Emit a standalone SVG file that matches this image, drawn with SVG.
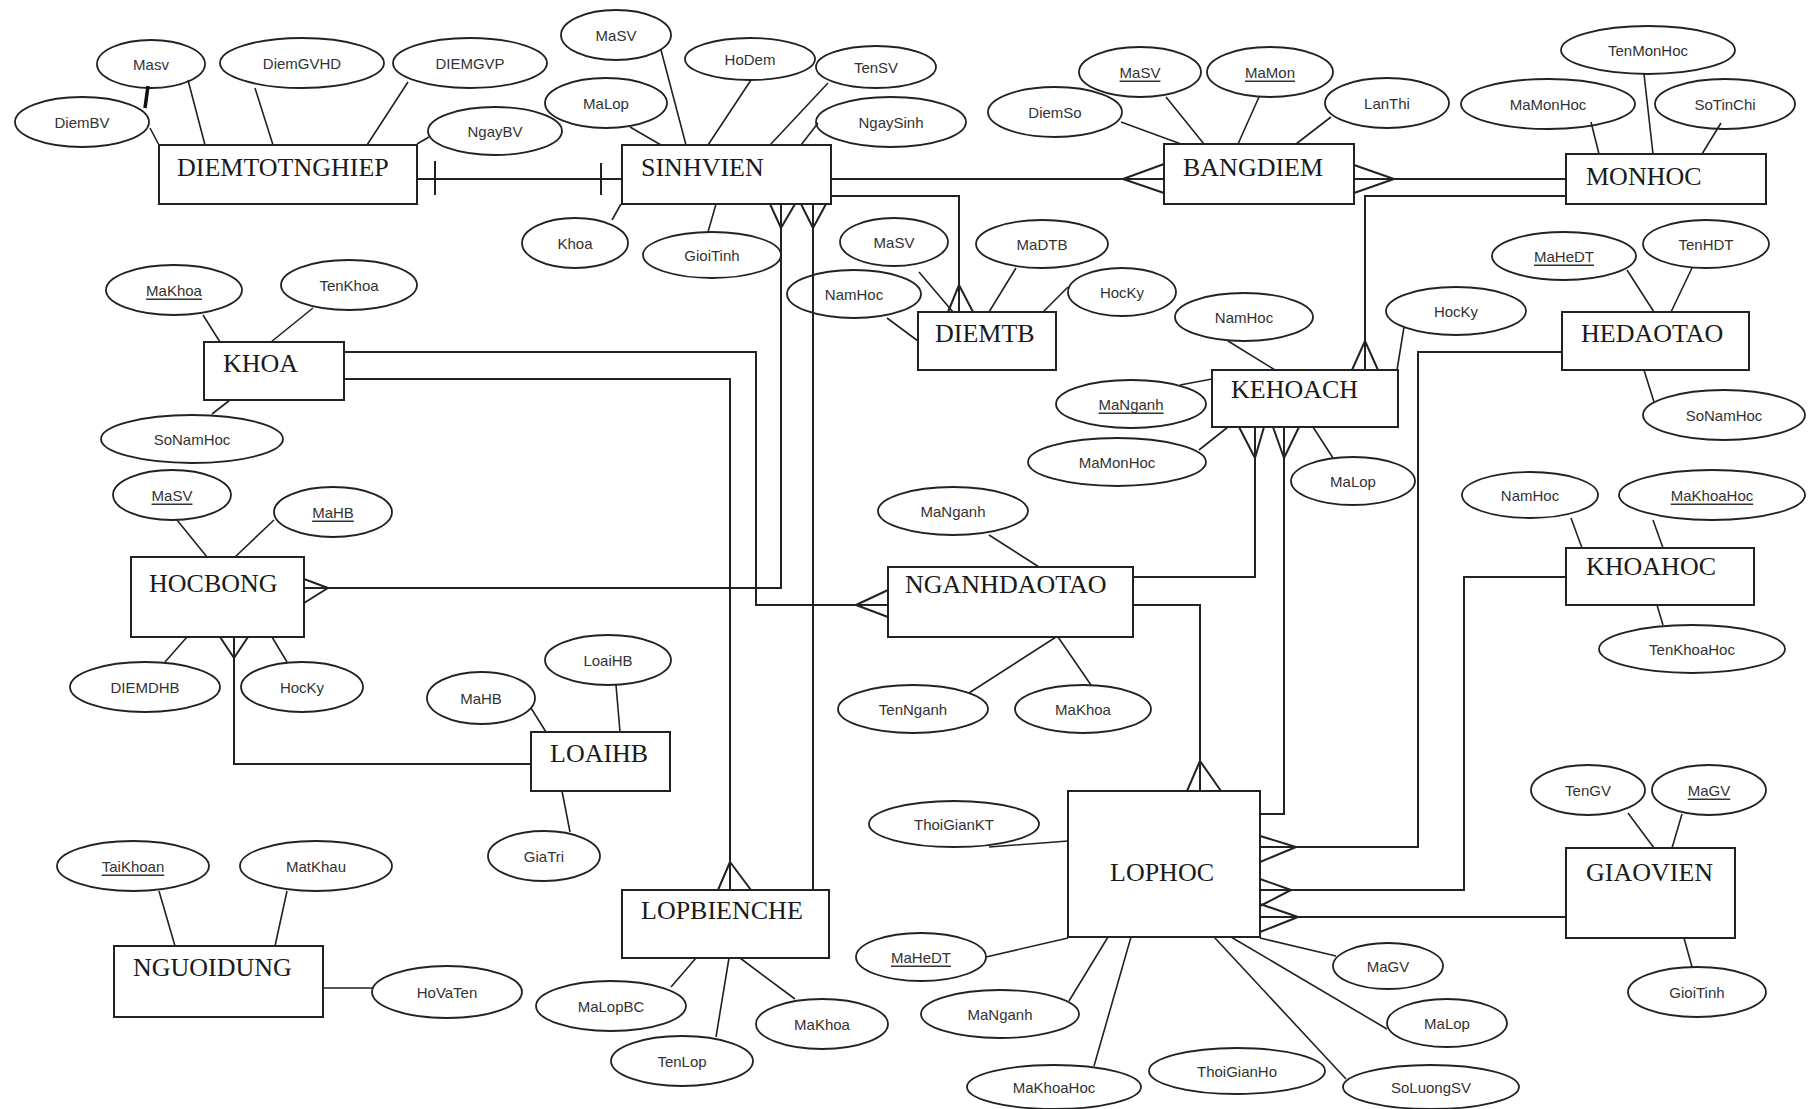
<svg xmlns="http://www.w3.org/2000/svg" width="1812" height="1109" viewBox="0 0 1812 1109">
<style>
.e{fill:none;stroke:#222;stroke-width:1.8}
.a{fill:none;stroke:#222;stroke-width:1.6}
.b{fill:#fff;stroke:#222;stroke-width:2}
.c{fill:none;stroke:#222;stroke-width:2}
.t{font-family:"Liberation Serif","Times New Roman",serif;font-size:26px;fill:#1a1a1a}
.s{font-family:"Liberation Sans",Arial,sans-serif;font-size:15px;fill:#333;text-anchor:middle;dominant-baseline:central}
.u{text-decoration:underline}
</style>
<rect width="1812" height="1109" fill="#fff"/>

<g id="DIEMTOTNGHIEP">
<rect class="b" x="159" y="145" width="258" height="59"/>
<text class="t" x="177" y="176">DIEMTOTNGHIEP</text>
<ellipse class="e" cx="151" cy="64" rx="54" ry="24"/><text class="s" x="151" y="64">Masv</text>
<ellipse class="e" cx="82" cy="122" rx="67" ry="25"/><text class="s" x="82" y="122">DiemBV</text>
<ellipse class="e" cx="302" cy="63" rx="82" ry="25"/><text class="s" x="302" y="63">DiemGVHD</text>
<ellipse class="e" cx="470" cy="63" rx="77" ry="25"/><text class="s" x="470" y="63">DIEMGVP</text>
<ellipse class="e" cx="495" cy="131" rx="67" ry="24"/><text class="s" x="495" y="131">NgayBV</text>
</g>

<g id="SINHVIEN">
<rect class="b" x="622" y="145" width="209" height="59"/>
<text class="t" x="641" y="176">SINHVIEN</text>
<ellipse class="e" cx="616" cy="35" rx="55" ry="25"/><text class="s" x="616" y="35">MaSV</text>
<ellipse class="e" cx="750" cy="59" rx="65" ry="21"/><text class="s" x="750" y="59">HoDem</text>
<ellipse class="e" cx="876" cy="67" rx="60" ry="21"/><text class="s" x="876" y="67">TenSV</text>
<ellipse class="e" cx="606" cy="103" rx="61" ry="25"/><text class="s" x="606" y="103">MaLop</text>
<ellipse class="e" cx="891" cy="122" rx="75" ry="25"/><text class="s" x="891" y="122">NgaySinh</text>
<ellipse class="e" cx="575" cy="243" rx="53" ry="25"/><text class="s" x="575" y="243">Khoa</text>
<ellipse class="e" cx="712" cy="255" rx="69" ry="23"/><text class="s" x="712" y="255">GioiTinh</text>
</g>

<g id="BANGDIEM">
<rect class="b" x="1164" y="144" width="190" height="60"/>
<text class="t" x="1183" y="176">BANGDIEM</text>
<ellipse class="e" cx="1140" cy="72" rx="61" ry="25"/><text class="s u" x="1140" y="72">MaSV</text>
<ellipse class="e" cx="1270" cy="72" rx="63" ry="25"/><text class="s u" x="1270" y="72">MaMon</text>
<ellipse class="e" cx="1055" cy="112" rx="67" ry="25"/><text class="s" x="1055" y="112">DiemSo</text>
<ellipse class="e" cx="1387" cy="103" rx="62" ry="25"/><text class="s" x="1387" y="103">LanThi</text>
</g>

<g id="MONHOC">
<rect class="b" x="1566" y="154" width="200" height="50"/>
<text class="t" x="1586" y="185">MONHOC</text>
<ellipse class="e" cx="1648" cy="50" rx="87" ry="24"/><text class="s" x="1648" y="50">TenMonHoc</text>
<ellipse class="e" cx="1548" cy="104" rx="87" ry="25"/><text class="s" x="1548" y="104">MaMonHoc</text>
<ellipse class="e" cx="1725" cy="104" rx="70" ry="25"/><text class="s" x="1725" y="104">SoTinChi</text>
</g>

<g id="DIEMTB">
<rect class="b" x="918" y="312" width="138" height="58"/>
<text class="t" x="935" y="342">DIEMTB</text>
<ellipse class="e" cx="894" cy="242" rx="54" ry="24"/><text class="s" x="894" y="242">MaSV</text>
<ellipse class="e" cx="1042" cy="244" rx="66" ry="24"/><text class="s" x="1042" y="244">MaDTB</text>
<ellipse class="e" cx="854" cy="294" rx="67" ry="24"/><text class="s" x="854" y="294">NamHoc</text>
<ellipse class="e" cx="1122" cy="292" rx="54" ry="24"/><text class="s" x="1122" y="292">HocKy</text>
</g>

<g id="KHOA">
<rect class="b" x="204" y="342" width="140" height="58"/>
<text class="t" x="223" y="372">KHOA</text>
<ellipse class="e" cx="174" cy="290" rx="68" ry="25"/><text class="s u" x="174" y="290">MaKhoa</text>
<ellipse class="e" cx="349" cy="285" rx="68" ry="25"/><text class="s" x="349" y="285">TenKhoa</text>
<ellipse class="e" cx="192" cy="439" rx="91" ry="24"/><text class="s" x="192" y="439">SoNamHoc</text>
</g>

<g id="KEHOACH">
<rect class="b" x="1212" y="370" width="186" height="57"/>
<text class="t" x="1231" y="398">KEHOACH</text>
<ellipse class="e" cx="1244" cy="317" rx="69" ry="24"/><text class="s" x="1244" y="317">NamHoc</text>
<ellipse class="e" cx="1456" cy="311" rx="70" ry="24"/><text class="s" x="1456" y="311">HocKy</text>
<ellipse class="e" cx="1131" cy="404" rx="75" ry="24"/><text class="s u" x="1131" y="404">MaNganh</text>
<ellipse class="e" cx="1117" cy="462" rx="89" ry="24"/><text class="s" x="1117" y="462">MaMonHoc</text>
<ellipse class="e" cx="1353" cy="481" rx="62" ry="24"/><text class="s" x="1353" y="481">MaLop</text>
</g>

<g id="HEDAOTAO">
<rect class="b" x="1562" y="312" width="187" height="58"/>
<text class="t" x="1581" y="342">HEDAOTAO</text>
<ellipse class="e" cx="1564" cy="256" rx="72" ry="24"/><text class="s u" x="1564" y="256">MaHeDT</text>
<ellipse class="e" cx="1706" cy="244" rx="63" ry="24"/><text class="s" x="1706" y="244">TenHDT</text>
<ellipse class="e" cx="1724" cy="415" rx="81" ry="25"/><text class="s" x="1724" y="415">SoNamHoc</text>
</g>

<g id="HOCBONG">
<rect class="b" x="131" y="557" width="173" height="80"/>
<text class="t" x="149" y="592">HOCBONG</text>
<ellipse class="e" cx="172" cy="495" rx="59" ry="25"/><text class="s u" x="172" y="495">MaSV</text>
<ellipse class="e" cx="333" cy="512" rx="59" ry="25"/><text class="s u" x="333" y="512">MaHB</text>
<ellipse class="e" cx="145" cy="687" rx="75" ry="25"/><text class="s" x="145" y="687">DIEMDHB</text>
<ellipse class="e" cx="302" cy="687" rx="61" ry="25"/><text class="s" x="302" y="687">HocKy</text>
</g>

<g id="NGANHDAOTAO">
<rect class="b" x="888" y="567" width="245" height="70"/>
<text class="t" x="905" y="593">NGANHDAOTAO</text>
<ellipse class="e" cx="953" cy="511" rx="75" ry="24"/><text class="s" x="953" y="511">MaNganh</text>
<ellipse class="e" cx="913" cy="709" rx="75" ry="24"/><text class="s" x="913" y="709">TenNganh</text>
<ellipse class="e" cx="1083" cy="709" rx="68" ry="24"/><text class="s" x="1083" y="709">MaKhoa</text>
</g>

<g id="KHOAHOC">
<rect class="b" x="1566" y="548" width="188" height="57"/>
<text class="t" x="1586" y="575">KHOAHOC</text>
<ellipse class="e" cx="1530" cy="495" rx="68" ry="23"/><text class="s" x="1530" y="495">NamHoc</text>
<ellipse class="e" cx="1712" cy="495" rx="93" ry="25"/><text class="s u" x="1712" y="495">MaKhoaHoc</text>
<ellipse class="e" cx="1692" cy="649" rx="93" ry="24"/><text class="s" x="1692" y="649">TenKhoaHoc</text>
</g>

<g id="LOAIHB">
<rect class="b" x="531" y="732" width="139" height="59"/>
<text class="t" x="550" y="762">LOAIHB</text>
<ellipse class="e" cx="481" cy="698" rx="54" ry="26"/><text class="s" x="481" y="698">MaHB</text>
<ellipse class="e" cx="608" cy="660" rx="63" ry="25"/><text class="s" x="608" y="660">LoaiHB</text>
<ellipse class="e" cx="544" cy="856" rx="56" ry="25"/><text class="s" x="544" y="856">GiaTri</text>
</g>

<g id="LOPHOC">
<rect class="b" x="1068" y="791" width="192" height="146"/>
<text class="t" x="1110" y="881">LOPHOC</text>
<ellipse class="e" cx="954" cy="824" rx="85" ry="23"/><text class="s" x="954" y="824">ThoiGianKT</text>
<ellipse class="e" cx="921" cy="957" rx="65" ry="24"/><text class="s u" x="921" y="957">MaHeDT</text>
<ellipse class="e" cx="1000" cy="1014" rx="79" ry="24"/><text class="s" x="1000" y="1014">MaNganh</text>
<ellipse class="e" cx="1054" cy="1087" rx="87" ry="22"/><text class="s" x="1054" y="1087">MaKhoaHoc</text>
<ellipse class="e" cx="1237" cy="1071" rx="88" ry="23"/><text class="s" x="1237" y="1071">ThoiGianHo</text>
<ellipse class="e" cx="1431" cy="1087" rx="88" ry="22"/><text class="s" x="1431" y="1087">SoLuongSV</text>
<ellipse class="e" cx="1447" cy="1023" rx="60" ry="24"/><text class="s" x="1447" y="1023">MaLop</text>
<ellipse class="e" cx="1388" cy="966" rx="55" ry="23"/><text class="s" x="1388" y="966">MaGV</text>
</g>

<g id="GIAOVIEN">
<rect class="b" x="1566" y="848" width="169" height="90"/>
<text class="t" x="1586" y="881">GIAOVIEN</text>
<ellipse class="e" cx="1588" cy="790" rx="57" ry="25"/><text class="s" x="1588" y="790">TenGV</text>
<ellipse class="e" cx="1709" cy="790" rx="57" ry="25"/><text class="s u" x="1709" y="790">MaGV</text>
<ellipse class="e" cx="1697" cy="992" rx="69" ry="25"/><text class="s" x="1697" y="992">GioiTinh</text>
</g>

<g id="LOPBIENCHE">
<rect class="b" x="622" y="890" width="207" height="68"/>
<text class="t" x="641" y="919">LOPBIENCHE</text>
<ellipse class="e" cx="611" cy="1006" rx="75" ry="25"/><text class="s" x="611" y="1006">MaLopBC</text>
<ellipse class="e" cx="682" cy="1061" rx="71" ry="25"/><text class="s" x="682" y="1061">TenLop</text>
<ellipse class="e" cx="822" cy="1024" rx="66" ry="25"/><text class="s" x="822" y="1024">MaKhoa</text>
</g>

<g id="NGUOIDUNG">
<rect class="b" x="114" y="946" width="209" height="71"/>
<text class="t" x="133" y="976">NGUOIDUNG</text>
<ellipse class="e" cx="133" cy="866" rx="76" ry="25"/><text class="s u" x="133" y="866">TaiKhoan</text>
<ellipse class="e" cx="316" cy="866" rx="76" ry="25"/><text class="s" x="316" y="866">MatKhau</text>
<ellipse class="e" cx="447" cy="992" rx="75" ry="26"/><text class="s" x="447" y="992">HoVaTen</text>
</g>

<g id="connectors">
<path class="c" d="M417 179H622M435 161V195M601 163V195"/>
<path class="c" d="M831 179H1164M1123 179L1164 164M1123 179L1164 193"/>
<path class="c" d="M1354 179H1566M1394 179L1354 165M1394 179L1354 193"/>
<path class="c" d="M831 196H959V312M959 285L948 312M959 285L973 312"/>
<path class="c" d="M1566 196H1365V370M1365 341L1352 370M1365 341L1378 370"/>
<path class="c" d="M781 204V588H304M781 228L770 204M781 228L795 204M328 588L304 579M328 588L304 603"/>
<path class="c" d="M813 204V890M813 228L801 204M813 228L826 204"/>
<path class="c" d="M344 352H756V605H888M856 605L888 590M856 605L888 617"/>
<path class="c" d="M344 379H730V890M730 862L718 890M730 862L751 890"/>
<path class="c" d="M234 637V764H531M234 658L220 637M234 658L248 637"/>
<path class="c" d="M1133 577H1255V427M1255 458L1239 427M1255 458L1264 427"/>
<path class="c" d="M1260 814H1284V427M1284 458L1273 427M1284 458L1299 427"/>
<path class="c" d="M1133 605H1200V791M1200 761L1187 791M1200 761L1221 791"/>
<path class="c" d="M1562 352H1418V847H1260M1296 847L1260 836M1296 847L1260 862"/>
<path class="c" d="M1566 577H1464V890H1260M1291 890L1260 879M1291 890L1260 906"/>
<path class="c" d="M1566 917H1260M1298 917L1260 904M1298 917L1260 932"/>
</g>

<g id="attr-links">
<path class="a" d="M188 80L205 145M150 128L159 145M255 88L273 145M408 82L367 145M417 144L429 137"/>
<path stroke="#111" stroke-width="3.5" fill="none" d="M148 86L145 108"/>
<path class="a" d="M661 50L686 145M630 127L661 145M751 80L708 145M828 83L770 145M818 123L801 145M612 220L621 204M708 232L716 204"/>
<path class="a" d="M1121 122L1181 144M1166 97L1204 144M1259 97L1238 144M1331 117L1296 144"/>
<path class="a" d="M1591 122L1599 154M1644 74L1653 154M1721 123L1702 154"/>
<path class="a" d="M919 272L953 312M887 318L918 341M1016 268L989 312M1068 287L1043 312"/>
<path class="a" d="M203 315L220 342M313 308L271 342M212 414L230 400"/>
<path class="a" d="M1228 341L1275 370M1404 327L1397 370M1180 385L1212 379M1199 450L1228 427M1333 458L1313 427"/>
<path class="a" d="M1627 270L1654 312M1692 268L1671 312M1654 402L1644 370"/>
<path class="a" d="M177 520L207 557M274 520L235 557M165 662L187 637M287 662L272 637"/>
<path class="a" d="M989 535L1039 567M969 693L1056 637M1091 685L1058 637"/>
<path class="a" d="M1571 518L1582 548M1653 520L1663 548M1663 625L1657 605"/>
<path class="a" d="M531 708L546 732M616 685L620 732M570 832L562 791"/>
<path class="a" d="M989 847L1068 841M986 957L1068 938M1069 1001L1108 937M1094 1066L1131 937M1214 937L1346 1079M1231 937L1387 1029M1260 938L1336 956"/>
<path class="a" d="M1628 813L1654 848M1682 814L1672 848M1692 967L1684 938"/>
<path class="a" d="M671 987L696 958M716 1037L729 958M795 999L740 958"/>
<path class="a" d="M159 891L175 946M287 891L275 946M323 988H372"/>
</g>
</svg>
